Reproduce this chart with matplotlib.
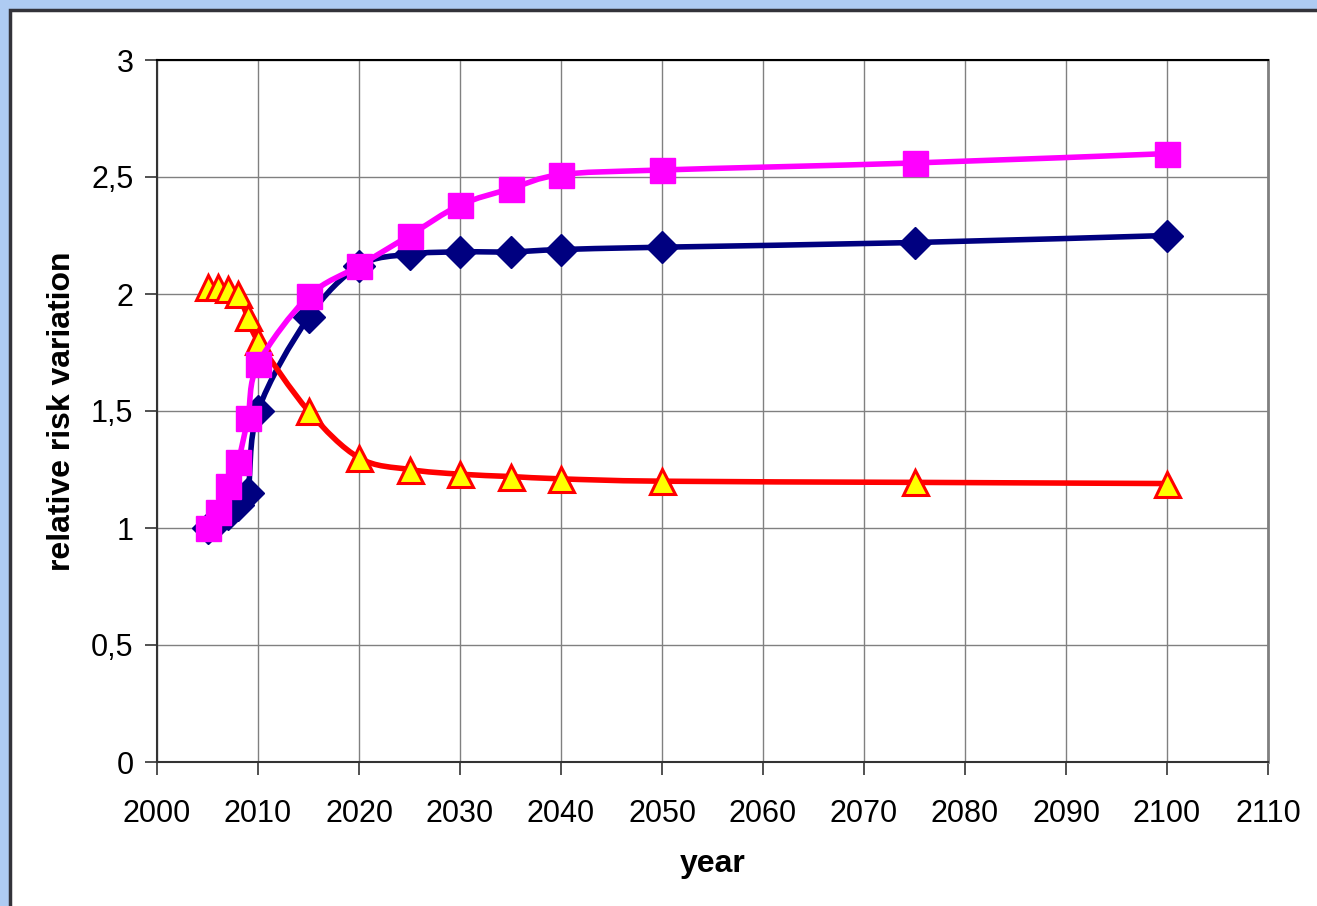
import matplotlib
matplotlib.use("Agg")
import matplotlib.pyplot as plt
from matplotlib.path import Path
from matplotlib.patches import PathPatch, Rectangle
from matplotlib.ticker import FuncFormatter

plt.rcParams['font.family'] = ['Liberation Sans', 'DejaVu Sans']

years = [2005, 2006, 2007, 2008, 2009, 2010, 2015, 2020, 2025, 2030, 2035, 2040, 2050, 2075, 2100]
diamond_vals = [1.0, 1.03, 1.06, 1.10, 1.15, 1.50, 1.90, 2.12, 2.17, 2.18, 2.18, 2.19, 2.20, 2.22, 2.25]
square_vals = [1.0, 1.07, 1.18, 1.28, 1.47, 1.70, 1.99, 2.12, 2.25, 2.38, 2.45, 2.51, 2.53, 2.56, 2.60]
triangle_vals = [2.03, 2.03, 2.02, 2.0, 1.90, 1.80, 1.50, 1.30, 1.25, 1.23, 1.22, 1.21, 1.20, 1.195, 1.19]


def smooth_path(xs, ys):
    # Excel-style smoothed line as cubic Bezier segments
    pts = list(zip(xs, ys))
    n = len(pts)
    verts = [pts[0]]
    codes = [Path.MOVETO]
    for i in range(n - 1):
        p0 = pts[i - 1] if i > 0 else pts[i]
        p1 = pts[i]
        p2 = pts[i + 1]
        p3 = pts[i + 2] if i + 2 < n else pts[i + 1]
        c1 = (p1[0] + (p2[0] - p0[0]) / 6, p1[1] + (p2[1] - p0[1]) / 6)
        c2 = (p2[0] - (p3[0] - p1[0]) / 6, p2[1] - (p3[1] - p1[1]) / 6)
        verts += [c1, c2, p2]
        codes += [Path.CURVE4] * 3
    return Path(verts, codes)


fig = plt.figure(figsize=(13.17, 9.06), dpi=100)
fig.patch.set_facecolor('#aecbf2')
frame = Rectangle((10 / 1317, -0.1), 1.2, 1.1 - 10 / 906,
                  transform=fig.transFigure, facecolor='white',
                  edgecolor='#33333a', linewidth=2.5, zorder=-5)
fig.patches.append(frame)

ax = fig.add_axes([157 / 1317, 1 - 762 / 906, (1268 - 157) / 1317, (762 - 60) / 906])
ax.set_zorder(2)

series = [
    (diamond_vals, '#000080', dict(marker='D', markersize=16, markerfacecolor='#000080', markeredgecolor='#000080')),
    (triangle_vals, '#ff0000', dict(marker='^', markersize=18, markerfacecolor='#ffff00', markeredgecolor='#ff0000', markeredgewidth=2.2)),
    (square_vals, '#ff00ff', dict(marker='s', markersize=18, markerfacecolor='#ff00ff', markeredgecolor='#ff00ff')),
]
z = 3
for vals, color, mk in series:
    ax.add_patch(PathPatch(smooth_path(years, vals), facecolor='none', edgecolor=color,
                           linewidth=4, zorder=z, capstyle='round'))
    ax.plot(years, vals, linestyle='none', zorder=z + 0.5, **mk)
    z += 1

ax.set_xlim(2000, 2110)
ax.set_ylim(0, 3)
ax.set_xticks(range(2000, 2111, 10))
ax.set_yticks([0, 0.5, 1, 1.5, 2, 2.5, 3])
ax.yaxis.set_major_formatter(FuncFormatter(lambda v, p: ('%g' % v).replace('.', ',')))
ax.grid(True, color='#808080', linewidth=1)
ax.set_axisbelow(True)
ax.tick_params(axis='both', labelsize=22, length=9, width=1.2, color='#333333', direction='out')
ax.tick_params(axis='x', pad=18)
ax.tick_params(axis='y', pad=8)

ax.spines['left'].set_color('#333333')
ax.spines['bottom'].set_color('#333333')
ax.spines['top'].set_color('#000000')
ax.spines['right'].set_color('#808080')
ax.spines['right'].set_linewidth(2)
for s in ['left', 'bottom', 'top']:
    ax.spines[s].set_linewidth(1.5)

ax.set_xlabel('year', fontsize=23, fontweight='bold', labelpad=14)
ax.set_ylabel('relative risk variation', fontsize=23, fontweight='bold', labelpad=10)

fig.savefig('out.png', dpi=100, facecolor=fig.get_facecolor())
